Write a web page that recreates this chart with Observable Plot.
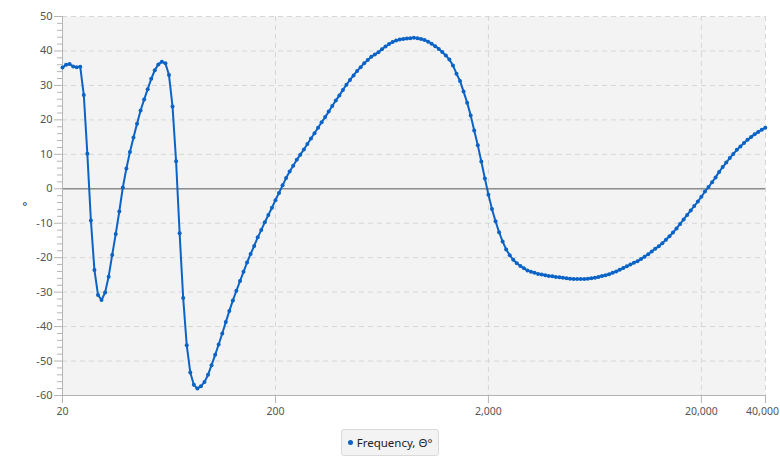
<!DOCTYPE html>
<html>
<head>
<meta charset="utf-8">
<script src="https://cdn.jsdelivr.net/npm/d3@7"></script>
<script src="https://cdn.jsdelivr.net/npm/@observablehq/plot@0.6"></script>
<style>
  body { margin: 0; background: #fff; font-family: "Segoe UI", "Noto Sans", sans-serif; }
  #legend { text-align: center; margin-top: 9px; line-height: 17px; }
  #legend .box { display: inline-block; padding: 4px 6px 4px 6px; border: 1px solid #dadada; border-radius: 3px; background: #f3f3f3; font-size: 11.5px; color: #222; }
  #legend .dot { display: inline-block; width: 5px; height: 5px; border-radius: 50%; background: #0b63c6; margin-right: 4px; vertical-align: middle; position: relative; top: -1px; }
</style>
</head>
<body>
<div id="chart"></div>
<div id="legend"><span class="box"><span class="dot"></span>Frequency, Θ°</span></div>
<script>
const frequencies = [
  20, 20.78, 21.6, 22.44, 23.32, 24.23, 25.18, 26.16, 27.19, 28.25,
  29.36, 30.5, 31.7, 32.94, 34.23, 35.57, 36.96, 38.4, 39.91, 41.47,
  43.09, 44.77, 46.53, 48.35, 50.24, 52.2, 54.25, 56.37, 58.57, 60.86,
  63.25, 65.72, 68.29, 70.96, 73.74, 76.62, 79.62, 82.74, 85.97, 89.34,
  92.83, 96.46, 100.2, 104.2, 108.2, 112.5, 116.9, 121.4, 126.2, 131.1,
  136.3, 141.6, 147.1, 152.9, 158.9, 165.1, 171.5, 178.3, 185.2, 192.5,
  200, 207.8, 216, 224.4, 233.2, 242.3, 251.8, 261.6, 271.9, 282.5,
  293.6, 305, 317, 329.4, 342.3, 355.7, 369.6, 384, 399.1, 414.7,
  430.9, 447.7, 465.3, 483.5, 502.4, 522, 542.5, 563.7, 585.7, 608.6,
  632.5, 657.2, 682.9, 709.6, 737.4, 766.2, 796.2, 827.4, 859.7, 893.4,
  928.3, 964.6, 1002, 1042, 1082, 1125, 1169, 1214, 1262, 1311,
  1363, 1416, 1471, 1529, 1589, 1651, 1715, 1783, 1852, 1925,
  2000, 2078, 2160, 2244, 2332, 2423, 2518, 2616, 2719, 2825,
  2936, 3050, 3170, 3294, 3423, 3557, 3696, 3840, 3991, 4147,
  4309, 4477, 4653, 4835, 5024, 5220, 5425, 5637, 5857, 6086,
  6325, 6572, 6829, 7096, 7374, 7662, 7962, 8274, 8597, 8934,
  9283, 9646, 10020, 10420, 10820, 11250, 11690, 12140, 12620, 13110,
  13630, 14160, 14710, 15290, 15890, 16510, 17150, 17830, 18520, 19250,
  20000, 20780, 21600, 22440, 23320, 24230, 25180, 26160, 27190, 28250,
  29360, 30500, 31700, 32940, 34230, 35570, 36960, 38400, 39910
];
const phase = [
  35.2, 36.0, 36.2, 35.5, 35.3, 35.4, 27.2, 10.2, -9.2, -23.6,
  -30.8, -32.3, -30.1, -25.5, -19.2, -13.1, -6.6, 0.4, 5.9, 10.7,
  14.9, 18.9, 22.7, 25.9, 28.9, 31.9, 34.4, 36.1, 36.9, 36.4,
  33.0, 23.9, 8.0, -12.9, -31.7, -45.4, -53.3, -56.9, -58.0, -57.3,
  -56.1, -54.0, -51.2, -48.2, -45.2, -42.0, -38.7, -35.5, -32.4, -29.6,
  -26.8, -24.1, -21.4, -18.9, -16.6, -14.1, -12.0, -9.7, -7.6, -5.5,
  -3.3, -1.2, 1.0, 3.1, 5.0, 6.7, 8.4, 9.9, 11.4, 13.0,
  14.6, 16.1, 17.7, 19.3, 20.8, 22.4, 24.0, 25.6, 27.1, 28.7,
  30.2, 31.6, 32.9, 34.2, 35.3, 36.4, 37.4, 38.3, 39.0, 39.6,
  40.5, 41.3, 42.0, 42.6, 43.0, 43.3, 43.5, 43.6, 43.7, 43.8,
  43.7, 43.5, 43.2, 42.7, 42.1, 41.4, 40.6, 39.7, 38.7, 37.5,
  35.8, 33.4, 31.3, 28.2, 25.0, 21.3, 16.9, 12.6, 7.9, 3.0,
  -1.7, -5.9, -9.4, -12.6, -15.3, -17.6, -19.3, -20.6, -21.6, -22.4,
  -23.1, -23.7, -24.1, -24.4, -24.7, -24.9, -25.1, -25.3, -25.4, -25.6,
  -25.7, -25.8, -26.0, -26.1, -26.2, -26.2, -26.2, -26.2, -26.1, -26.0,
  -25.8, -25.6, -25.3, -25.1, -24.8, -24.4, -24.0, -23.5, -23.0, -22.5,
  -22.0, -21.5, -21.0, -20.4, -19.7, -19.0, -18.2, -17.4, -16.7, -15.8,
  -14.8, -13.8, -12.7, -11.5, -10.2, -8.9, -7.6, -6.3, -5.0, -3.7,
  -2.3, -0.8, 0.5, 1.9, 3.3, 4.9, 6.3, 7.6, 8.9, 10.1,
  11.3, 12.3, 13.3, 14.2, 15.0, 15.8, 16.5, 17.1, 17.7
];
const xTicks = [20, 200, 2000, 20000, 40000];
const xGridTicks = [200, 2000, 20000, 40000];
const yTicks = [-60, -50, -40, -30, -20, -10, 0, 10, 20, 30, 40, 50];
const yMinorTicks = [-58, -56, -54, -52, -48, -46, -44, -42, -38, -36, -34, -32,
  -28, -26, -24, -22, -18, -16, -14, -12, -8, -6, -4, -2, 2, 4, 6, 8,
  12, 14, 16, 18, 22, 24, 26, 28, 32, 34, 36, 38, 42, 44, 46, 48];
const yLabel = "°";

const data = frequencies.map((f, i) => ({ f, p: phase[i] }));
const lineColor = "#0b63c6";
const axisColor = "#b5b5b5";
const labelColor = "#555";
const fmtX = d3.format(",");
const noLabel = () => "";

const chart = Plot.plot({
  width: 780,
  height: 420,
  marginLeft: 62,
  marginRight: 15,
  marginTop: 16,
  marginBottom: 25,
  style: { fontFamily: '"Segoe UI", "Noto Sans", sans-serif', fontSize: "11px", color: labelColor, background: "#fff", overflow: "visible" },
  x: { type: "log", domain: [20, 40001], label: null },
  y: { domain: [-60, 50], label: null },
  marks: [
    Plot.frame({ fill: "#f3f3f3", stroke: "none" }),
    Plot.gridY(yTicks, { stroke: "#d6d6d6", strokeOpacity: 1, strokeDasharray: "5,4" }),
    Plot.gridX(xGridTicks, { stroke: "#d6d6d6", strokeOpacity: 1, strokeDasharray: "5,4" }),
    Plot.ruleY([0], { stroke: "#8c8c8c", strokeWidth: 1.5 }),
    Plot.axisY(yMinorTicks, { tickSize: 5, tickFormat: noLabel, stroke: axisColor, label: null }),
    Plot.axisY(yTicks, { tickSize: 8, tickPadding: 2, tickFormat: d => `${d}`, stroke: axisColor, fill: labelColor, label: null }),
    Plot.axisX(xTicks, { tickSize: 8, tickFormat: noLabel, stroke: axisColor, label: null }),
    Plot.text(xTicks.slice(0, 4), { x: d => d, text: d => fmtX(d), frameAnchor: "bottom", lineAnchor: "top", dy: 12, fill: labelColor, fontSize: 10.5 }),
    Plot.text(xTicks.slice(4), { x: d => d, text: d => fmtX(d), frameAnchor: "bottom", lineAnchor: "top", dy: 12, dx: -3, fill: labelColor, fontSize: 10.5 }),
    Plot.ruleX([20], { stroke: axisColor }),
    Plot.ruleY([-60], { stroke: axisColor }),
    Plot.line(data, { x: "f", y: "p", stroke: lineColor, strokeWidth: 2 }),
    Plot.dot(data, { x: "f", y: "p", r: 2, fill: lineColor }),
    Plot.text([yLabel], { frameAnchor: "left", dx: -40, fontSize: 11, fill: "#111" })
  ]
});
document.getElementById("chart").append(chart);
</script>
</body>
</html>
